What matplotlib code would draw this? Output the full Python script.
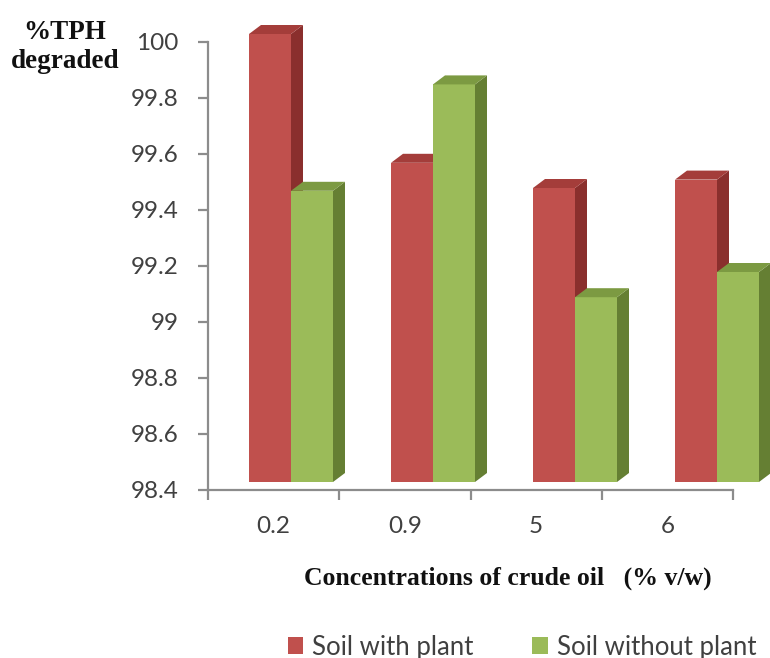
import matplotlib
matplotlib.use("Agg")
import matplotlib.pyplot as plt
import numpy as np
from matplotlib.patches import Polygon, Patch

# Crude-oil concentrations (% v/w) and % TPH degraded
categories = ["0.2", "0.9", "5", "6"]
with_plant = [100.0, 99.54, 99.45, 99.48]
without_plant = [99.44, 99.82, 99.06, 99.15]
series_names = ["Soil with plant", "Soil without plant"]
y_ticks = [98.4, 98.6, 98.8, 99.0, 99.2, 99.4, 99.6, 99.8, 100.0]

W, H, DPI = 770, 658, 100
fig = plt.figure(figsize=(W / DPI, H / DPI), dpi=DPI)

def fig_box(left, right, top, bottom):
    return [left / W, 1 - bottom / H, (right - left) / W, (bottom - top) / H]

ymin, ymax = 98.4, 100.0

# Axis frame with ticks and labels
ax = fig.add_axes(fig_box(208, 733, 42, 490))
ax.set_xlim(-0.5, len(categories) - 0.5)
ax.set_ylim(ymin, ymax)
ax.patch.set_alpha(0)
for s in ("top", "right"):
    ax.spines[s].set_visible(False)
for s in ("left", "bottom"):
    ax.spines[s].set_color("#8c8c8c")
    ax.spines[s].set_linewidth(1.6)
ax.set_yticks(y_ticks)
ax.set_yticklabels([f"{v:g}" for v in y_ticks])
ax.set_xticks(np.arange(len(categories)))
ax.set_xticklabels(categories)
ax.set_xticks(np.arange(len(categories) + 1) - 0.5, minor=True)
ax.tick_params(axis="y", length=7, width=1.6, color="#8c8c8c", pad=14,
               labelsize=17.5, labelcolor="#404040")
ax.tick_params(axis="x", which="major", length=0, pad=19,
               labelsize=17.5, labelcolor="#404040")
ax.tick_params(axis="x", which="minor", length=7, width=1.6, color="#8c8c8c")
for lab in ax.get_xticklabels() + ax.get_yticklabels():
    lab.set_family("Lato")

# Bars drawn in their own (deeper) plane with a pseudo-3D look
bx = fig.add_axes(fig_box(220, 788, 34, 482))
bx.set_xlim(-0.5, len(categories) - 0.5)
bx.set_ylim(ymin, ymax)
bx.axis("off")
bx.patch.set_alpha(0)

px_x = (788 - 220) / len(categories)      # pixels per category
px_y = (482 - 34) / (ymax - ymin)         # pixels per value unit
bar_w = 42 / px_x
ddx = 12 / px_x
ddy = 9 / px_y

colors = {
    "red": ("#c0504d", "#8a2f2d", "#a43d3a"),
    "green": ("#9bbb59", "#657f33", "#7c9a42"),
}

def draw_box(x0, val, front, side, top):
    x1 = x0 + bar_w
    bx.bar(x0, val - ymin, bottom=ymin, width=bar_w, align="edge",
           color=front, edgecolor="none", zorder=2, clip_on=False)
    bx.add_patch(Polygon([(x1, ymin), (x1 + ddx, ymin + ddy),
                          (x1 + ddx, val + ddy), (x1, val)],
                         closed=True, facecolor=side, edgecolor="none",
                         zorder=2, clip_on=False))
    bx.add_patch(Polygon([(x0, val), (x1, val), (x1 + ddx, val + ddy),
                          (x0 + ddx, val + ddy)],
                         closed=True, facecolor=top, edgecolor="none",
                         zorder=2, clip_on=False))

for i in range(len(categories)):
    draw_box(i - bar_w, with_plant[i], *colors["red"])
    draw_box(i, without_plant[i], *colors["green"])

# Titles
fig.text(65 / W, 1 - 47 / H, "%TPH\ndegraded", ha="center", va="center",
         family="Liberation Serif", weight="bold", fontsize=19.5,
         linespacing=1.2, color="#111111")
fig.text(508 / W, 1 - 578 / H, "Concentrations of crude oil   (% v/w)",
         ha="center", va="center", family="Liberation Serif",
         weight="bold", fontsize=18.5, color="#111111")

handles = [Patch(facecolor=colors["red"][0]), Patch(facecolor=colors["green"][0])]
leg = fig.legend(handles, series_names, loc="center",
                 bbox_to_anchor=(522 / W, 1 - 647 / H), ncol=2, frameon=False,
                 handlelength=0.6, handleheight=0.6, handletextpad=0.35,
                 columnspacing=2.3, prop={"family": "Lato", "size": 18.5})
for t in leg.get_texts():
    t.set_color("#404040")

fig.savefig("out.png", dpi=DPI)
